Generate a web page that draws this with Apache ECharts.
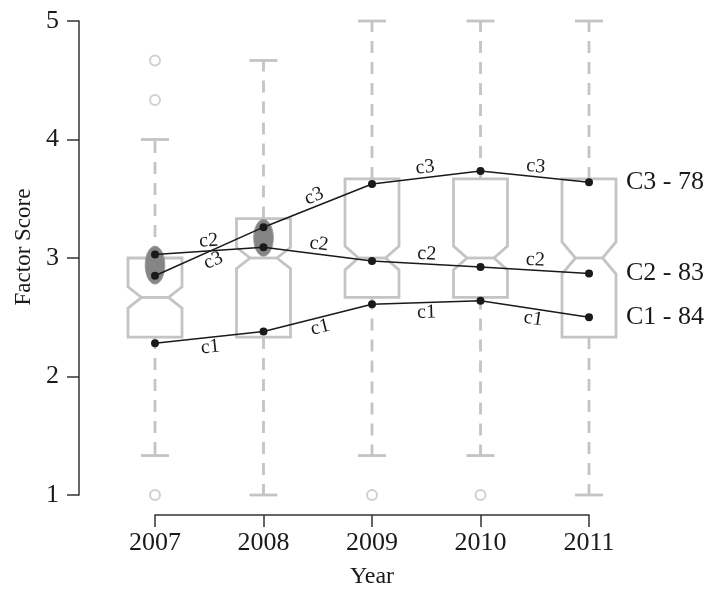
<!DOCTYPE html>
<html>
<head>
<meta charset="utf-8">
<script src="https://cdn.jsdelivr.net/npm/echarts@6/dist/echarts.min.js"></script>
<style>
  html, body { margin: 0; padding: 0; background: #fff; }
  #chart { width: 713px; height: 595px; }
</style>
</head>
<body>
<div id="chart"></div>
<script>
// categories
const years = ['2007', '2008', '2009', '2010', '2011'];

// notched boxplot stats per year
const whiskerLow = [1.333, 1, 1.333, 1.333, 1];
const q1 = [2.333, 2.333, 2.667, 2.667, 2.333];
const median = [2.667, 3, 3, 3, 3];
const q3 = [3, 3.333, 3.667, 3.667, 3.667];
const whiskerHigh = [4, 4.667, 5, 5, 5];
const notchHalf = [0.09, 0.09, 0.1, 0.1, 0.135];
const outliers = [[0, 4.667], [0, 4.333], [0, 1], [2, 1], [3, 1]];

// cluster means
const c1 = [2.28, 2.38, 2.61, 2.64, 2.5];
const c2 = [3.03, 3.09, 2.975, 2.925, 2.87];
const c3 = [2.85, 3.26, 3.625, 3.735, 3.64];
const clusterKeys = ['c1', 'c2', 'c3'];
const clusterNames = ['C1 - 84', 'C2 - 83', 'C3 - 78'];

// grey ellipses where c2 and c3 overlap
const overlapYear = [0, 1];
const overlapCenter = [2.94, 3.17];
const overlapHalf = [0.16, 0.155];

const FONT = 'Liberation Serif';
const BOX_GREY = '#c4c4c4';
// which side of the segment each small label sits on (1 above, -1 below)
const labelSide = {
    c1: [-1, -1, -1, -1],
    c2: [1, 1, 1, 1],
    c3: [-1, 1, 1, 1]
};

var dom = document.getElementById('chart');
var myChart = echarts.init(dom, null, { renderer: 'canvas' });

const boxData = years.map((y, i) => [i, whiskerLow[i], q1[i], median[i], q3[i], whiskerHigh[i], notchHalf[i]]);

function renderBox(params, api) {
    const i = api.value(0);
    const x = api.coord([i, 0])[0];
    const yv = v => api.coord([i, v])[1];
    const lo = yv(api.value(1)), b = yv(api.value(2)), m = yv(api.value(3));
    const t = yv(api.value(4)), hi = yv(api.value(5));
    const nh = api.value(6);
    const nUp = yv(api.value(3) + nh), nLo = yv(api.value(3) - nh);
    const w = 27, wi = 13.5, cap = 14;
    const stroke = { stroke: BOX_GREY, lineWidth: 2.8, fill: null };
    const dashed = { stroke: BOX_GREY, lineWidth: 2.8, lineDash: [12, 9] };
    return {
        type: 'group',
        children: [
            { type: 'line', shape: { x1: x, y1: t, x2: x, y2: hi }, style: dashed },
            { type: 'line', shape: { x1: x, y1: b, x2: x, y2: lo }, style: dashed },
            { type: 'line', shape: { x1: x - cap, y1: hi, x2: x + cap, y2: hi }, style: stroke },
            { type: 'line', shape: { x1: x - cap, y1: lo, x2: x + cap, y2: lo }, style: stroke },
            {
                type: 'polygon',
                shape: {
                    points: [
                        [x - w, t], [x + w, t], [x + w, nUp], [x + wi, m], [x + w, nLo],
                        [x + w, b], [x - w, b], [x - w, nLo], [x - wi, m], [x - w, nUp]
                    ]
                },
                style: { stroke: BOX_GREY, lineWidth: 2.8, fill: '#fff', lineJoin: 'miter' }
            },
            { type: 'line', shape: { x1: x - wi, y1: m, x2: x + wi, y2: m }, style: stroke }
        ]
    };
}

const ellipseData = overlapYear.map((yr, k) => [yr, overlapCenter[k], overlapHalf[k]]);

function renderEllipse(params, api) {
    const c = api.coord([api.value(0), api.value(1)]);
    const top = api.coord([api.value(0), api.value(1) + api.value(2)]);
    return {
        type: 'ellipse',
        shape: { cx: c[0], cy: c[1], rx: 9.8, ry: c[1] - top[1] },
        style: { fill: '#858585', stroke: '#9a9a9a', lineWidth: 1 }
    };
}

const clusters = [c1, c2, c3];

function segData(vals) {
    const out = [];
    for (let i = 0; i < vals.length - 1; i++) out.push([i, vals[i], vals[i + 1]]);
    return out;
}

function makeSegRender(key) {
    return function (params, api) {
        const i = api.value(0);
        const p0 = api.coord([i, api.value(1)]);
        const p1 = api.coord([i + 1, api.value(2)]);
        const dx = p1[0] - p0[0], dy = p1[1] - p0[1];
        const len = Math.sqrt(dx * dx + dy * dy);
        const side = labelSide[key][i];
        const off = 10;
        const cx = (p0[0] + p1[0]) / 2 + side * off * dy / len;
        const cy = (p0[1] + p1[1]) / 2 - side * off * dx / len;
        return {
            type: 'text',
            x: cx, y: cy,
            rotation: -Math.atan2(dy, dx),
            style: {
                text: key, x: 0, y: 0, align: 'center', verticalAlign: 'middle',
                font: '20px "' + FONT + '"', fill: '#1a1a1a'
            }
        };
    };
}

const lineSeries = clusters.map((vals, k) => ({
    name: clusterKeys[k],
    type: 'line',
    data: vals,
    z: 4,
    symbol: 'circle',
    symbolSize: 8,
    showSymbol: true,
    itemStyle: { color: '#1a1a1a' },
    lineStyle: { color: '#1a1a1a', width: 1.5 },
    endLabel: {
        show: true,
        formatter: clusterNames[k],
        distance: 37,
        fontFamily: FONT,
        fontSize: 26,
        color: '#1a1a1a'
    },
    animation: false
}));

const labelSeries = clusters.map((vals, k) => ({
    type: 'custom',
    renderItem: makeSegRender(clusterKeys[k]),
    data: segData(vals),
    encode: { x: 0, y: [1, 2] },
    z: 5,
    silent: true,
    animation: false
}));

const option = {
    backgroundColor: '#fff',
    animation: false,
    grid: { left: 155, right: 124, top: 21, bottom: 100, containLabel: false },
    xAxis: {
        type: 'category',
        data: years,
        boundaryGap: false,
        offset: 20,
        name: 'Year',
        nameLocation: 'middle',
        nameGap: 50,
        nameTextStyle: { fontFamily: FONT, fontSize: 24, color: '#1a1a1a' },
        axisLine: { lineStyle: { color: '#333', width: 1.5 } },
        axisTick: { alignWithLabel: true, length: 12, lineStyle: { color: '#333', width: 1.5 } },
        axisLabel: { fontFamily: FONT, fontSize: 26, color: '#1a1a1a', margin: 15 },
        splitLine: { show: false }
    },
    yAxis: {
        type: 'value',
        min: 1,
        max: 5,
        interval: 1,
        offset: 76,
        name: 'Factor Score',
        nameLocation: 'middle',
        nameGap: 40,
        nameTextStyle: { fontFamily: FONT, fontSize: 23, color: '#1a1a1a', padding: [0, 0, 0, 22] },
        axisLine: { show: true, lineStyle: { color: '#333', width: 1.5 } },
        axisTick: { show: true, length: 12, lineStyle: { color: '#333', width: 1.5 } },
        axisLabel: { fontFamily: FONT, fontSize: 26, color: '#1a1a1a', margin: 20 },
        splitLine: { show: false }
    },
    series: [
        {
            type: 'custom',
            renderItem: renderBox,
            data: boxData,
            encode: { x: 0, y: [1, 5] },
            z: 1,
            silent: true,
            clip: false
        },
        {
            type: 'scatter',
            data: outliers,
            symbol: 'emptyCircle',
            symbolSize: 10,
            itemStyle: { color: BOX_GREY, borderColor: BOX_GREY, borderWidth: 2.5 },
            z: 1,
            silent: true
        },
        {
            type: 'custom',
            renderItem: renderEllipse,
            data: ellipseData,
            encode: { x: 0, y: 1 },
            z: 2,
            silent: true
        }
    ].concat(lineSeries, labelSeries)
};

myChart.setOption(option);
window.addEventListener('resize', myChart.resize);
</script>
</body>
</html>
